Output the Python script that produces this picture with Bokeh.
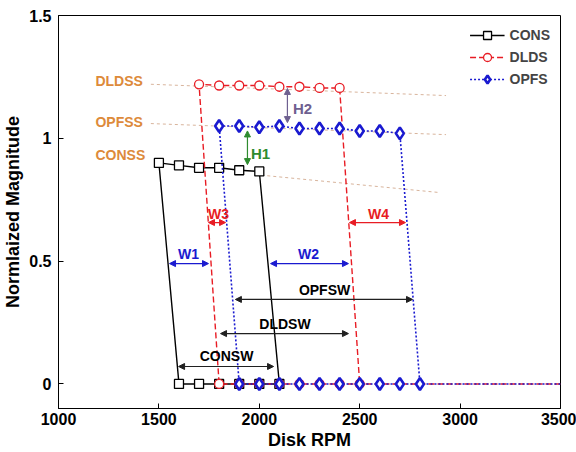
from bokeh.plotting import figure
from bokeh.embed import file_html
from bokeh.resources import INLINE
from bokeh.models import (Arrow, NormalHead, Label, Legend, LegendItem,
                          Range1d, FixedTicker, CustomJSTickFormatter)

# ---------------- data ----------------
x_ticks = [1000, 1500, 2000, 2500, 3000, 3500]
y_ticks = [0, 0.5, 1, 1.5]

cons_top_rpm = [1500, 1600, 1700, 1800, 1900, 2000]
cons_top = [0.90, 0.89, 0.88, 0.88, 0.87, 0.865]
cons_bot_rpm = [1600, 1700, 1800, 1900, 2000, 2100]
cons_bot = [0, 0, 0, 0, 0, 0]

dlds_top_rpm = [1700, 1800, 1900, 2000, 2100, 2200, 2300, 2400]
dlds_top = [1.22, 1.215, 1.215, 1.215, 1.21, 1.21, 1.205, 1.205]
dlds_bot_rpm = [1800, 1900, 2000, 2100, 2200, 2300, 2400, 2500]
dlds_bot = [0, 0, 0, 0, 0, 0, 0, 0]

opfs_top_rpm = [1800, 1900, 2000, 2100, 2200, 2300, 2400, 2500, 2600, 2700]
opfs_top = [1.05, 1.05, 1.045, 1.05, 1.04, 1.04, 1.04, 1.03, 1.03, 1.02]
opfs_bot_rpm = [1900, 2000, 2100, 2200, 2300, 2400, 2500, 2600, 2700, 2800]
opfs_bot = [0, 0, 0, 0, 0, 0, 0, 0, 0, 0]

tail_rpm = 3500  # bottom branch continues to the end of the sweep

# steady-state trend lines (rpm, magnitude)
dldss_rpm = [1460, 2930]
dldss_val = [1.22, 1.174]
opfss_rpm = [1460, 2930]
opfss_val = [1.06, 1.015]
conss_rpm = [2010, 2900]
conss_val = [0.85, 0.779]

FONT = "Liberation Sans"
RED = "#e81c24"
BLUE = "#1a1ad0"
ORANGE = "#dd8a3a"
TREND = "#d8b49c"

p = figure(width=576, height=452, x_range=Range1d(1000, 3500), y_range=Range1d(-0.1, 1.5),
           output_backend="svg", toolbar_location=None,
           min_border_left=58, min_border_right=16, min_border_top=15, min_border_bottom=44)
p.xgrid.visible = False
p.ygrid.visible = False
p.outline_line_color = "black"
p.outline_line_width = 1
p.outline_line_alpha = 1

fmt = CustomJSTickFormatter(code="return tick.toString();")
for ax, ticks in ((p.xaxis[0], x_ticks), (p.yaxis[0], y_ticks)):
    ax.ticker = FixedTicker(ticks=ticks)
    ax.formatter = fmt
    ax.major_tick_in = 5
    ax.major_tick_out = 0
    ax.minor_tick_in = 0
    ax.minor_tick_out = 0
    ax.axis_line_color = "black"
    ax.major_label_text_font = FONT
    ax.major_label_text_font_style = "bold"
    ax.major_label_text_font_size = "16px"
    ax.major_label_text_color = "black"
    ax.axis_label_text_font = FONT
    ax.axis_label_text_font_style = "bold"
    ax.axis_label_text_font_size = "18px"
    ax.axis_label_text_color = "black"
p.xaxis.axis_label = "Disk RPM"
p.yaxis.axis_label = "Normlaized Magnitude"
p.xaxis.major_label_standoff = 4
p.xaxis.axis_label_standoff = 2
p.yaxis.major_label_standoff = 7
p.yaxis.axis_label_standoff = 3

# trend lines
p.line(dldss_rpm, dldss_val, color=TREND, line_width=1, line_dash="3 3")
p.line(opfss_rpm, opfss_val, color=TREND, line_width=1, line_dash="3 3")
p.line(conss_rpm, conss_val, color=TREND, line_width=1, line_dash="3 3")

# CONS loop
cx = cons_bot_rpm[::-1] + cons_top_rpm + [cons_bot_rpm[-1]]
cy = cons_bot[::-1] + cons_top + [cons_bot[-1]]
cons_line = p.line(cx, cy, color="black", line_width=1.4)
cons_mk = p.scatter(cons_top_rpm + cons_bot_rpm, cons_top + cons_bot, marker="square",
                    size=9, line_color="black", fill_color="white", line_width=1.3)

# DLDS loop
dx = [tail_rpm] + dlds_bot_rpm[::-1] + dlds_top_rpm + [dlds_bot_rpm[-1]]
dy = [0] + dlds_bot[::-1] + dlds_top + [dlds_bot[-1]]
dlds_line = p.line(dx, dy, color=RED, line_width=1.4, line_dash="6 3")
dlds_mk = p.scatter(dlds_top_rpm + dlds_bot_rpm, dlds_top + dlds_bot, marker="circle",
                    size=9, line_color=RED, fill_color="white", line_width=1.3)

# OPFS loop
ox = [tail_rpm] + opfs_bot_rpm[::-1] + opfs_top_rpm + [opfs_bot_rpm[-1]]
oy = [0] + opfs_bot[::-1] + opfs_top + [opfs_bot[-1]]
opfs_line = p.line(ox, oy, color=BLUE, line_width=1.6, line_dash="2 2")
opfs_mk = p.scatter(opfs_top_rpm + opfs_bot_rpm, opfs_top + opfs_bot, marker="diamond",
                    size=12, line_color=BLUE, fill_color="white", line_width=2.6)

legend = Legend(items=[LegendItem(label="CONS", renderers=[cons_line, cons_mk]),
                       LegendItem(label="DLDS", renderers=[dlds_line, dlds_mk]),
                       LegendItem(label="OPFS", renderers=[opfs_line, opfs_mk])],
                location="top_right", border_line_alpha=0, background_fill_alpha=0,
                label_text_font=FONT, label_text_font_style="bold", label_text_font_size="14px",
                glyph_width=35, glyph_height=20, label_height=20, spacing=2,
                label_standoff=5, padding=2, margin=8)
p.add_layout(legend)

# steady-state labels
for txt, y in (("DLDSS", 1.235), ("OPFSS", 1.068), ("CONSS", 0.933)):
    p.add_layout(Label(x=1184, y=y, text=txt, text_font=FONT, text_font_style="bold",
                       text_font_size="14px", text_color=ORANGE, text_baseline="middle"))

def arrow(x0, y0, x1, y1, color):
    p.add_layout(Arrow(x_start=x0, y_start=y0, x_end=x1, y_end=y1, line_color=color,
                       line_width=1.2,
                       start=NormalHead(size=6, fill_color=color, line_color=color),
                       end=NormalHead(size=6, fill_color=color, line_color=color)))

def label(x, y, txt, color, size="14px"):
    p.add_layout(Label(x=x, y=y, text=txt, text_font=FONT, text_font_style="bold",
                       text_font_size=size, text_color=color, text_align="center",
                       text_baseline="middle"))

GREEN = "#2e8b2e"
PURP = "#6e6090"
DARK = "#202020"
arrow(1941, 1.03, 1941, 0.893, GREEN); label(2006, 0.94, "H1", GREEN, "15px")
arrow(2140, 1.203, 2140, 1.064, PURP); label(2215, 1.12, "H2", PURP, "15px")
arrow(1747, 0.657, 1832, 0.657, RED); label(1797, 0.693, "W3", RED)
arrow(2449, 0.657, 2728, 0.657, RED); label(2594, 0.693, "W4", RED)
arrow(1553, 0.49, 1747, 0.49, BLUE); label(1647, 0.53, "W1", BLUE)
arrow(2056, 0.49, 2444, 0.49, BLUE); label(2245, 0.53, "W2", BLUE)
arrow(1881, 0.344, 2763, 0.344, DARK); label(2325, 0.384, "OPFSW", "black")
arrow(1807, 0.205, 2444, 0.205, DARK); label(2128, 0.242, "DLDSW", "black")
arrow(1598, 0.071, 2071, 0.071, DARK); label(1837, 0.112, "CONSW", "black")

open("out.html", "w").write(file_html(p, INLINE))
